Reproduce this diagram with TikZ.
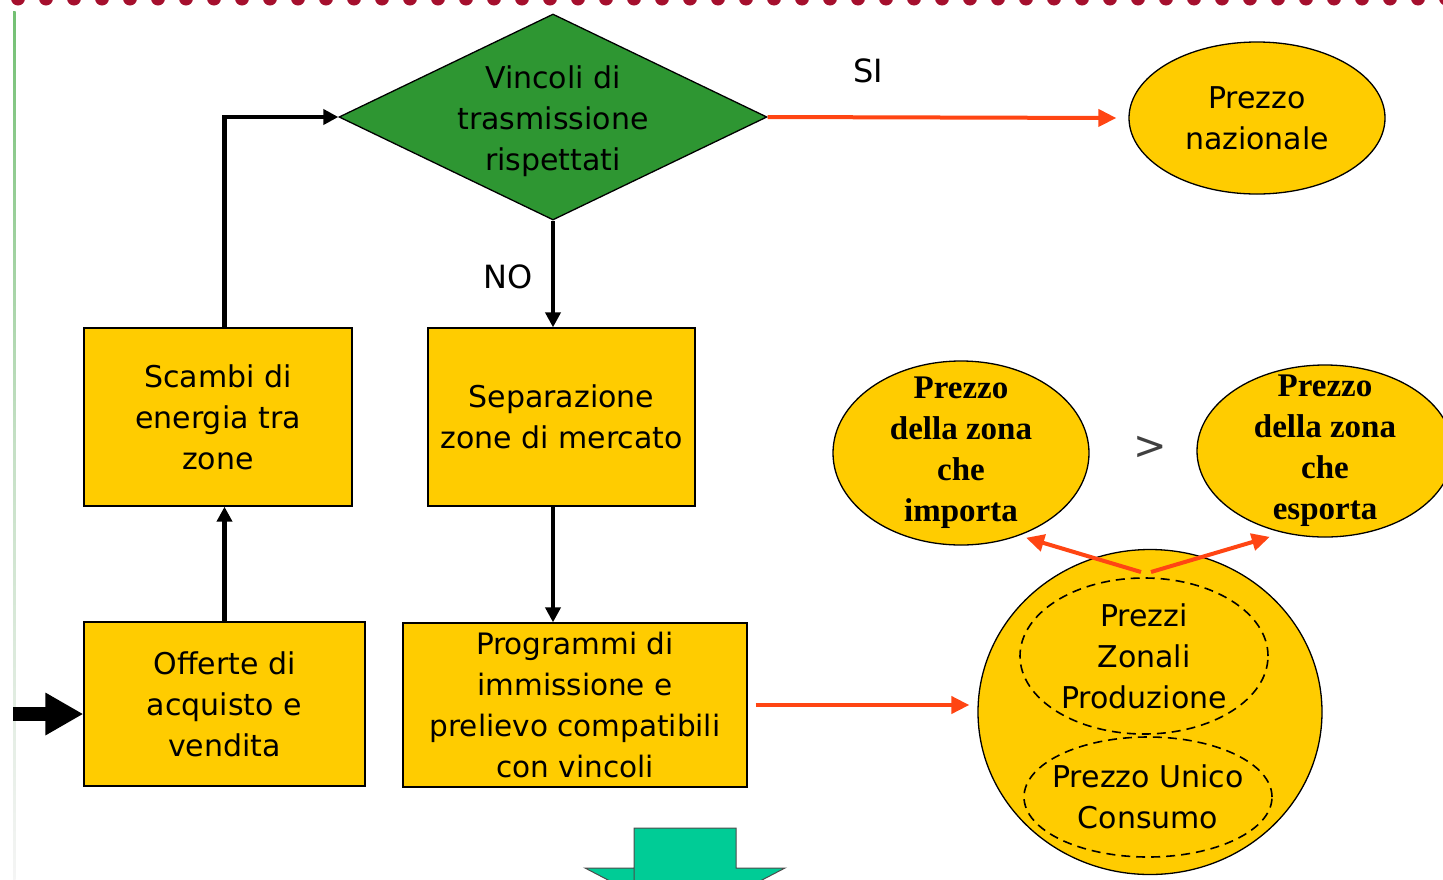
\documentclass[tikz,border=0pt]{standalone}
\usepackage{fontspec}
\setmainfont{DejaVu Sans}
\newfontfamily\boldserif{Liberation Serif}
\usetikzlibrary{shapes.geometric,arrows.meta}

\definecolor{boxyellow}{HTML}{FFCC00}
\definecolor{diamondgreen}{HTML}{2E9632}
\definecolor{flowred}{HTML}{FF4513}
\definecolor{dotred}{HTML}{A50F2D}
\definecolor{blockgreen}{HTML}{00CC96}

\tikzset{
	box/.style={draw, line width=1.3pt, fill=boxyellow, rectangle, align=center, inner sep=0pt,
		font=\fontsize{30}{41}\selectfont},
	oval/.style={draw, line width=1.3pt, fill=boxyellow, ellipse, align=center, inner sep=0pt},
	zone/.style={ellipse, draw, line width=1.6pt, dash pattern=on 9pt off 6pt, inner sep=0pt,
		align=center, font=\fontsize{30}{41}\selectfont},
	flow/.style={line width=4.5pt, -{Triangle[length=15pt,width=15pt]}},
	redflow/.style={line width=4pt, flowred, -{Triangle[length=18pt,width=17pt]}},
	label/.style={font=\fontsize{32}{36}\selectfont}
}

\begin{document}
\begin{tikzpicture}[x=1pt,y=-1pt]
	\useasboundingbox (0,0) rectangle (1443,879);
	\clip (0,0) rectangle (1443,879);

	% border
	\foreach \i in {0,...,51}
		\fill[dotred] (18+28*\i,-1.5) circle[radius=7];
	\shade[top color=green!55!black!55, bottom color=gray!8, middle color=green!30!gray!35]
		(13,11) rectangle (15.5,879);

	% decision
	\node[draw, line width=1.3pt, fill=diamondgreen, diamond, aspect=2.08, minimum width=428, minimum height=206,
		inner sep=-20pt, font=\fontsize{30}{41}\selectfont]
		(vincoli) at (553,117) {\raisebox{-4pt}[\height][\depth]{\begin{tabular}{@{}c@{}}Vincoli di\\trasmissione\\rispettati\end{tabular}}};

	\node[oval, minimum width=256, minimum height=152, font=\fontsize{30}{41}\selectfont]
		(nazionale) at (1257,118) {Prezzo\\nazionale};

	% boxes
	\node[box, minimum width=268, minimum height=178] (scambi) at (218,417) {Scambi di\\energia tra\\zone};
	\node[box, minimum width=267, minimum height=178] (separazione) at (561.5,417) {Separazione\\zone di mercato};
	\node[box, minimum width=281, minimum height=164] (offerte) at (224.5,704) {Offerte di\\acquisto e\\vendita};
	\node[box, minimum width=344, minimum height=164, font=\fontsize{29.5}{41}\selectfont] (programmi) at (575,705)
		{Programmi di\\immissione e\\prelievo compatibili\\con vincoli};

	% zonal prices
	\node[oval, minimum width=344, minimum height=325] (prezzi) at (1150,712) {};
	\node[zone, minimum width=248, minimum height=156, inner ysep=-10pt] (produzione) at (1144,656) {Prezzi\\Zonali\\Produzione};
	\node[zone, minimum width=248, minimum height=120, inner xsep=-14pt] (consumo) at (1148,797) {Prezzo Unico\\Consumo};

	\node[oval, minimum width=256, minimum height=184, inner ysep=-18pt,
		font=\boldserif\bfseries\fontsize{33}{41}\selectfont]
		(importa) at (961,453) {Prezzo\\della zona\\che\\importa};
	\node[oval, minimum width=256, minimum height=172, inner ysep=-22pt,
		font=\boldserif\bfseries\fontsize{33}{41}\selectfont]
		(esporta) at (1325,451) {Prezzo\\della zona\\che\\esporta};
	\node[font=\fontsize{40}{40}\selectfont, text=black!75] (maggiore) at (1150,448) {>};

	% labels
	\node[label] (si) at (868,71) {SI};
	\node[label] (no) at (508,277) {NO};

	% arrows
	\draw[flow] (offerte.north) -- (scambi.south -| offerte.north);
	\draw[flow] (scambi.north -| offerte.north) |- (vincoli.west);
	\draw[flow] (vincoli.south) -- (separazione.north -| vincoli.south);
	\draw[flow] (separazione.south -| vincoli.south) -- (programmi.north -| vincoli.south);
	\draw[redflow] (vincoli.east) -- ([xshift=-12pt]nazionale.west);
	\draw[redflow] ([xshift=8pt]programmi.east) -- ([xshift=-8pt]prezzi.west |- programmi.east);

	\coordinate (split) at (1146,572);
	\draw[redflow] ([xshift=-5pt]split) -- ([shift={(2,4)}]importa.-52);
	\draw[redflow] ([xshift=5pt]split) -- ([shift={(-2,7)}]esporta.-124);

	% input arrow
	\coordinate (ingresso) at (13,714);
	\draw[line width=14pt, -{Triangle[length=38pt,width=40pt]}] (ingresso) -- (offerte.west |- ingresso);

	% block arrow
	\draw[fill=blockgreen, draw=black!70, line width=1pt]
		(634,900) -- (634,828) -- (736,828) -- (736,868) -- (785,868) -- (685,920) -- (585,868) -- (634,868) -- cycle;
\end{tikzpicture}
\end{document}
